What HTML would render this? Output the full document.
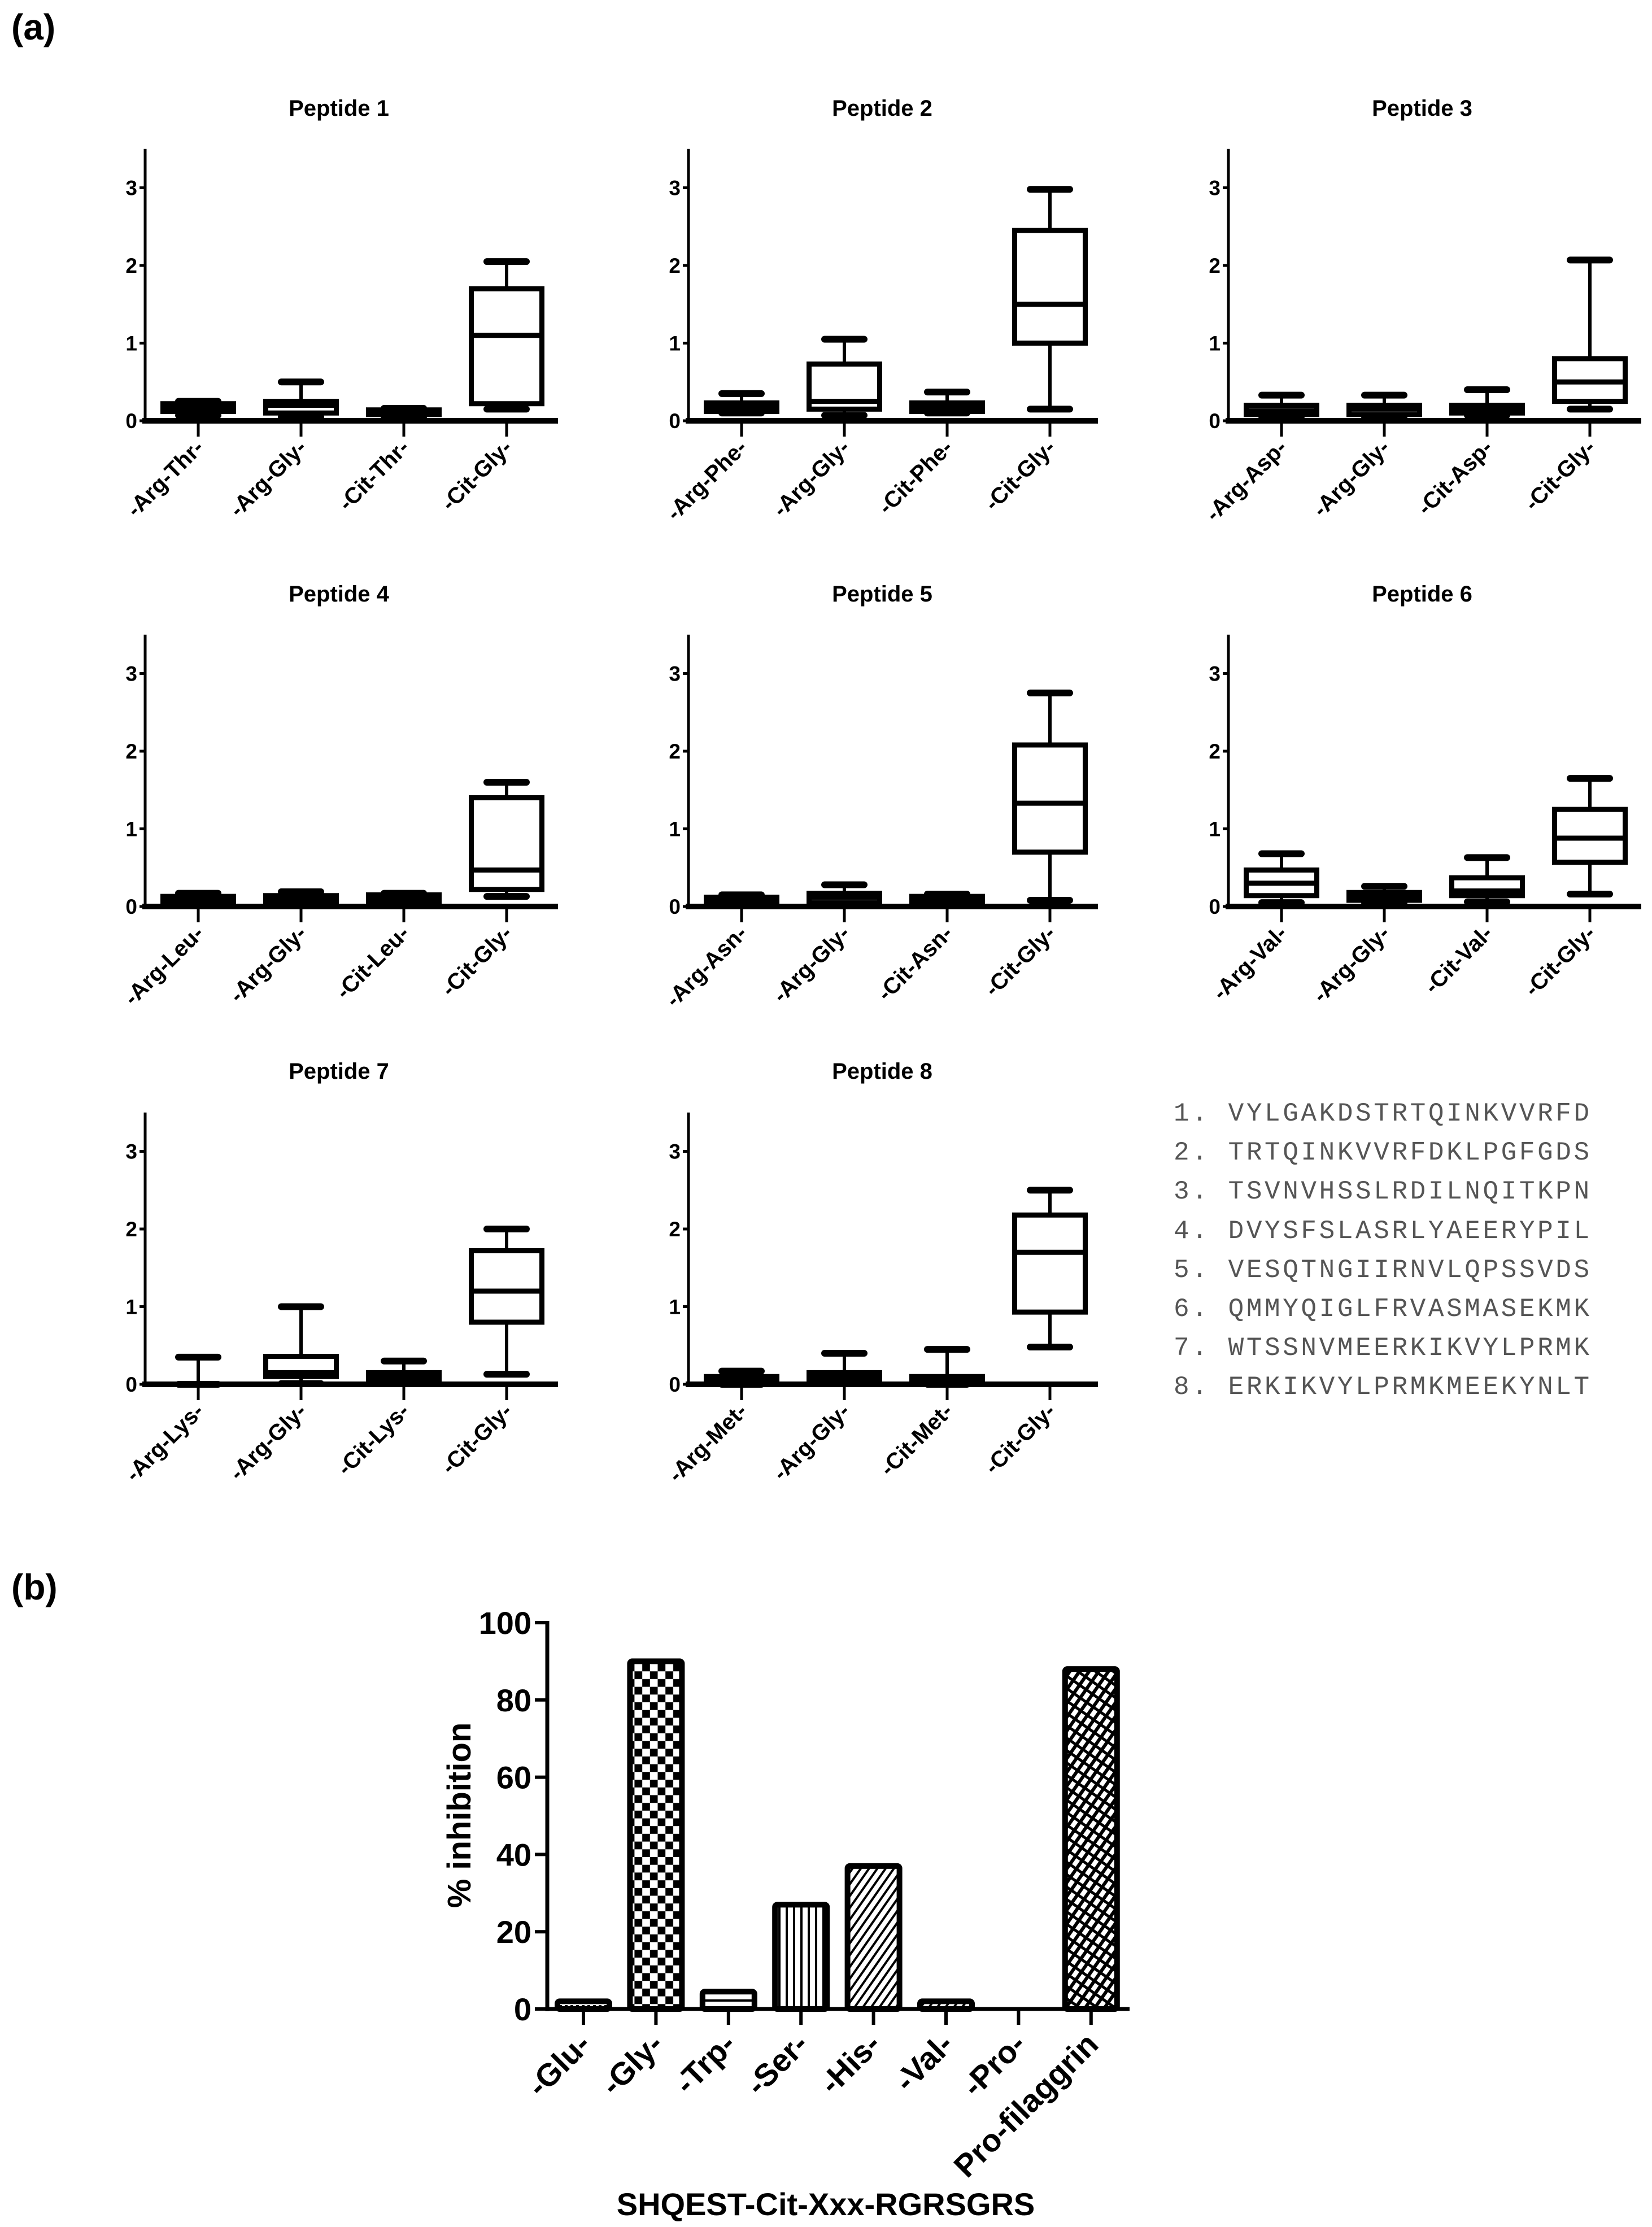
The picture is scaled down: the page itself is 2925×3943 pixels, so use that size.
<!DOCTYPE html>
<html><head><meta charset="utf-8"><style>
html,body{margin:0;padding:0;background:#fff;}
svg{display:block;font-family:"Liberation Sans",Arial,sans-serif;}
</style></head><body>
<svg id="fig" width="2925" height="3943" viewBox="0 0 2925 3943" xmlns="http://www.w3.org/2000/svg">
<defs>
<pattern id="pat-check" width="27.4" height="27.4" patternUnits="userSpaceOnUse"><rect width="27.4" height="27.4" fill="#fff"/><rect width="13.7" height="13.7" fill="#000"/><rect x="13.7" y="13.7" width="13.7" height="13.7" fill="#000"/></pattern>
<pattern id="pat-hline" width="20" height="20" patternUnits="userSpaceOnUse"><rect width="20" height="20" fill="#fff"/><rect y="0" width="20" height="4" fill="#000"/></pattern>
<pattern id="pat-vline" width="13" height="20" patternUnits="userSpaceOnUse"><rect width="13" height="20" fill="#fff"/><rect x="0" width="4" height="20" fill="#000"/></pattern>
<pattern id="pat-diag" width="12" height="12" patternUnits="userSpaceOnUse" patternTransform="rotate(35)"><rect width="12" height="12" fill="#fff"/><rect width="4" height="12" fill="#000"/></pattern>
<pattern id="pat-dot" width="10" height="10" patternUnits="userSpaceOnUse"><rect width="10" height="10" fill="#fff"/><rect width="5" height="5" fill="#000"/></pattern>
<pattern id="pat-cross" width="14" height="18" patternUnits="userSpaceOnUse" patternTransform="rotate(35)"><rect width="14" height="18" fill="#000"/><rect x="4" y="0" width="8" height="13" fill="#fff"/></pattern>
</defs>
<text x="20" y="70" font-size="64" font-weight="bold">(a)</text>
<text x="20" y="2832" font-size="64" font-weight="bold">(b)</text>
<g id="panels"></g>
<g id="seqs" font-family="'Liberation Mono',monospace" font-size="46" fill="#555" letter-spacing="4.6"></g>
<g id="barchart"></g>
</svg>
<script>
// ---------- Panel (a) data ----------
const peptideTitles = ["Peptide 1","Peptide 2","Peptide 3","Peptide 4","Peptide 5","Peptide 6","Peptide 7","Peptide 8"];
const catLabels1 = ["-Arg-Thr-","-Arg-Gly-","-Cit-Thr-","-Cit-Gly-"];
const catLabels2 = ["-Arg-Phe-","-Arg-Gly-","-Cit-Phe-","-Cit-Gly-"];
const catLabels3 = ["-Arg-Asp-","-Arg-Gly-","-Cit-Asp-","-Cit-Gly-"];
const catLabels4 = ["-Arg-Leu-","-Arg-Gly-","-Cit-Leu-","-Cit-Gly-"];
const catLabels5 = ["-Arg-Asn-","-Arg-Gly-","-Cit-Asn-","-Cit-Gly-"];
const catLabels6 = ["-Arg-Val-","-Arg-Gly-","-Cit-Val-","-Cit-Gly-"];
const catLabels7 = ["-Arg-Lys-","-Arg-Gly-","-Cit-Lys-","-Cit-Gly-"];
const catLabels8 = ["-Arg-Met-","-Arg-Gly-","-Cit-Met-","-Cit-Gly-"];
// each box: [min, q1, median, q3, max]
const boxes1 = [[0.07,0.12,0.17,0.22,0.25],[0.05,0.10,0.20,0.25,0.50],[0.05,0.08,0.11,0.14,0.16],[0.15,0.22,1.10,1.70,2.05]];
const boxes2 = [[0.10,0.12,0.17,0.23,0.35],[0.07,0.15,0.25,0.73,1.05],[0.10,0.12,0.17,0.23,0.37],[0.15,1.00,1.50,2.45,2.98]];
const boxes3 = [[0.03,0.08,0.13,0.20,0.33],[0.05,0.08,0.15,0.20,0.33],[0.07,0.10,0.15,0.20,0.40],[0.15,0.25,0.50,0.80,2.07]];
const boxes4 = [[0.03,0.05,0.10,0.13,0.17],[0.03,0.05,0.10,0.14,0.19],[0.04,0.06,0.10,0.15,0.17],[0.13,0.22,0.47,1.40,1.60]];
const boxes5 = [[0.02,0.04,0.08,0.12,0.15],[0.03,0.05,0.12,0.17,0.28],[0.02,0.04,0.08,0.13,0.16],[0.08,0.70,1.33,2.08,2.75]];
const boxes6 = [[0.05,0.14,0.30,0.47,0.68],[0.05,0.08,0.13,0.18,0.26],[0.06,0.14,0.20,0.37,0.63],[0.16,0.57,0.88,1.25,1.65]];
const boxes7 = [[0.00,0.00,0.00,0.00,0.35],[0.01,0.10,0.15,0.36,1.00],[0.03,0.05,0.10,0.15,0.30],[0.13,0.80,1.20,1.72,2.00]];
const boxes8 = [[0.00,0.00,0.05,0.10,0.17],[0.02,0.05,0.10,0.15,0.40],[0.00,0.00,0.05,0.10,0.45],[0.48,0.93,1.70,2.18,2.50]];
const yTicksA = [0,1,2,3];
const sequences = ["1. VYLGAKDSTRTQINKVVRFD","2. TRTQINKVVRFDKLPGFGDS","3. TSVNVHSSLRDILNQITKPN","4. DVYSFSLASRLYAEERYPIL","5. VESQTNGIIRNVLQPSSVDS","6. QMMYQIGLFRVASMASEKMK","7. WTSSNVMEERKIKVYLPRMK","8. ERKIKVYLPRMKMEEKYNLT"];

// ---------- Panel (b) data ----------
const barCats = ["-Glu-","-Gly-","-Trp-","-Ser-","-His-","-Val-","-Pro-","Pro-filaggrin"];
const barVals = [2,90,4.5,27,37,2,0,88];
const yTicksB = [0,20,40,60,80,100];

const NS = "http://www.w3.org/2000/svg";
function mk(tag, attrs, parent){const e=document.createElementNS(NS,tag);for(const k in attrs)e.setAttribute(k,attrs[k]);parent.appendChild(e);return e;}

const allLabels=[catLabels1,catLabels2,catLabels3,catLabels4,catLabels5,catLabels6,catLabels7,catLabels8];
const allBoxes=[boxes1,boxes2,boxes3,boxes4,boxes5,boxes6,boxes7,boxes8];
const panelX=[257,1219,2175];
const rowBase=[745,1605,2451];
const rowTitleY=[205,1065,1910];
const unit=137.5, xLen=[731,725,731], catStep=182, firstCat=94, boxW=125, capW=70;
const gP=document.getElementById('panels');
for(let p=0;p<8;p++){
  const col=p%3,row=Math.floor(p/3);
  const ax=panelX[col], base=rowBase[row];
  const y=v=>base-v*unit;
  const xc=i=>ax+firstCat+i*catStep;
  const g=mk('g',{},gP);
  
  
  const t=mk('text',{x:ax+343,y:rowTitleY[row],'font-size':40,'font-weight':'bold','text-anchor':'middle'},g);
  t.textContent=peptideTitles[p];
  
  
  const ya=mk('line',{x1:ax,y1:y(3.5),x2:ax,y2:base,stroke:'#000','stroke-width':5},g);
  
  
  const xa=mk('line',{x1:ax-5,y1:base,x2:ax+xLen[col],y2:base,stroke:'#000','stroke-width':10},g);
  
  
  yTicksA.forEach(v=>{
    mk('line',{x1:ax-10,y1:y(v),x2:ax,y2:y(v),stroke:'#000','stroke-width':5},g);
    const tl=mk('text',{x:ax-14,y:y(v)+13,'font-size':37,'font-weight':'bold','text-anchor':'end'},g);
    tl.textContent=v;
    
    
  });
  allBoxes[p].forEach((b,i)=>{
    const cx=xc(i);
    mk('line',{x1:cx,y1:base,x2:cx,y2:base+28,stroke:'#000','stroke-width':5},g);
    const bg=mk('g',{stroke:'#000',fill:'none'},g);
    
    
    mk('line',{x1:cx,y1:y(b[0]),x2:cx,y2:y(b[4]),'stroke-width':6},bg);
    mk('line',{x1:cx-capW/2,y1:y(b[0]),x2:cx+capW/2,y2:y(b[0]),'stroke-width':12,'stroke-linecap':'round'},bg);
    mk('line',{x1:cx-capW/2,y1:y(b[4]),x2:cx+capW/2,y2:y(b[4]),'stroke-width':12,'stroke-linecap':'round'},bg);
    mk('rect',{x:cx-boxW/2,y:y(b[3]),width:boxW,height:Math.max(0.5,y(b[1])-y(b[3])),fill:'#fff','stroke-width':9},bg);
    mk('line',{x1:cx-boxW/2,y1:y(b[2]),x2:cx+boxW/2,y2:y(b[2]),'stroke-width':9},bg);
    const cl=mk('text',{x:0,y:0,'font-size':40,'font-weight':'bold','text-anchor':'end',transform:`translate(${cx+12},${base+50}) rotate(-45)`},g);
    cl.textContent=allLabels[p][i];
    
    
  });
}
const gS=document.getElementById('seqs');


const seqY=[1984,2053,2122,2192,2261,2330,2399,2468];
sequences.forEach((s,i)=>{
  const t=mk('text',{x:2078,y:seqY[i]},gS);
  t.textContent=s;
  
  
});
// ---------- Bar chart ----------
const gB=document.getElementById('barchart');


const bx0=969, bBase=3557, bUnit=6.84, bStep=128.4, bFirst=64, bW=92;
const by=v=>bBase-v*bUnit;
const bxc=i=>bx0+bFirst+i*bStep;
const fills=['url(#pat-dot)','url(#pat-check)','url(#pat-hline)','url(#pat-vline)','url(#pat-diag)','url(#pat-diag)','#fff','url(#pat-cross)'];
barVals.forEach((v,i)=>{
  const cx=bxc(i);
  mk('line',{x1:cx,y1:bBase,x2:cx,y2:bBase+28,stroke:'#000','stroke-width':6},gB);
  if(v>0){
    const r=mk('rect',{x:cx-bW/2,y:by(v),width:bW,height:bBase-by(v),fill:fills[i],stroke:'#000','stroke-width':10,rx:4},gB);
    
    
  }
  const l=mk('text',{x:0,y:0,'font-size':56,'font-weight':'bold','text-anchor':'end',transform:`translate(${cx+16},${bBase+66}) rotate(-45)`},gB);
  l.textContent=barCats[i];
  
  
});
const bya=mk('line',{x1:bx0,y1:by(100)-3,x2:bx0,y2:bBase+4,stroke:'#000','stroke-width':7},gB);


const bxa=mk('line',{x1:bx0,y1:bBase,x2:2000,y2:bBase,stroke:'#000','stroke-width':7},gB);


yTicksB.forEach(v=>{
  mk('line',{x1:bx0-22,y1:by(v),x2:bx0,y2:by(v),stroke:'#000','stroke-width':6},gB);
  const t=mk('text',{x:bx0-28,y:by(v)+20,'font-size':56,'font-weight':'bold','text-anchor':'end'},gB);
  t.textContent=v;
  
  
});
const yt=mk('text',{x:0,y:0,'font-size':58,'font-weight':'bold','text-anchor':'middle',transform:'translate(833,3214) rotate(-90)'},gB);
yt.textContent='% inhibition';


const xt=mk('text',{x:1462,y:3922,'font-size':56,'font-weight':'bold','text-anchor':'middle'},gB);
xt.textContent='SHQEST-Cit-Xxx-RGRSGRS';


</script>
</body></html>
